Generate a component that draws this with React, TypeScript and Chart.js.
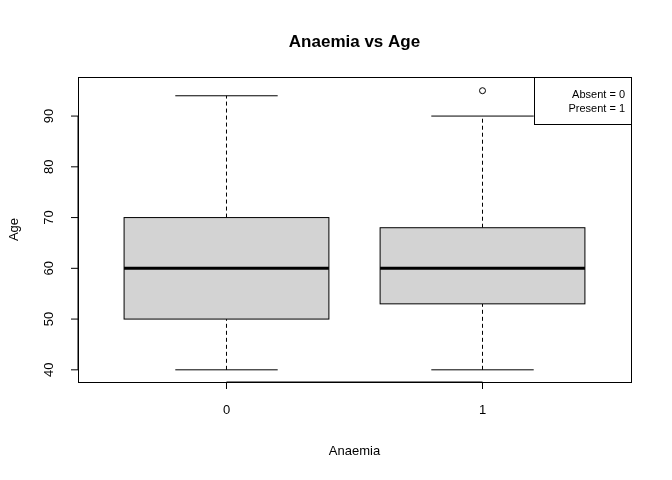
import React, { useEffect, useRef } from "react";
import { Chart, registerables } from "chart.js";
Chart.register(...registerables);

const groups = ["0", "1"];
const mins = [40, 40];
const q1s = [50, 53];
const medians = [60, 60];
const q3s = [70, 68];
const maxs = [94, 90];
const outliers = [{ x: 2, y: 95 }];
const yTicks = [40, 50, 60, 70, 80, 90];
const legendLines = ["Absent = 0", "Present = 1"];

const FONT = "'Liberation Sans', Arial, sans-serif";

const boxPlugin = {
    id: "rbox",
    beforeDatasetsDraw(chart: any) {
        const { ctx, scales, chartArea } = chart;
        const xs = scales.x;
        const ys = scales.y;
        ctx.save();
        groups.forEach((g, i) => {
            const xc = i + 1;
            const l = xs.getPixelForValue(xc - 0.4);
            const r = xs.getPixelForValue(xc + 0.4);
            const cl = xs.getPixelForValue(xc - 0.2);
            const cr = xs.getPixelForValue(xc + 0.2);
            const c = xs.getPixelForValue(xc);
            const yq1 = ys.getPixelForValue(q1s[i]);
            const yq3 = ys.getPixelForValue(q3s[i]);
            // whiskers
            ctx.strokeStyle = "#000";
            ctx.lineWidth = 1;
            ctx.setLineDash([4, 3]);
            ctx.beginPath();
            ctx.moveTo(c, ys.getPixelForValue(mins[i]));
            ctx.lineTo(c, yq1);
            ctx.moveTo(c, yq3);
            ctx.lineTo(c, ys.getPixelForValue(maxs[i]));
            ctx.stroke();
            ctx.setLineDash([]);
            ctx.beginPath();
            ctx.moveTo(cl, ys.getPixelForValue(mins[i]));
            ctx.lineTo(cr, ys.getPixelForValue(mins[i]));
            ctx.moveTo(cl, ys.getPixelForValue(maxs[i]));
            ctx.lineTo(cr, ys.getPixelForValue(maxs[i]));
            ctx.stroke();
            // box
            ctx.fillStyle = "#d3d3d3";
            ctx.fillRect(l, yq3, r - l, yq1 - yq3);
            ctx.strokeRect(l, yq3, r - l, yq1 - yq3);
            ctx.lineWidth = 3;
            ctx.beginPath();
            ctx.moveTo(l, ys.getPixelForValue(medians[i]));
            ctx.lineTo(r, ys.getPixelForValue(medians[i]));
            ctx.stroke();
        });
        ctx.restore();
    },
    afterDraw(chart: any) {
        const { ctx, scales, chartArea } = chart;
        const xs = scales.x;
        const ys = scales.y;
        ctx.save();
        ctx.strokeStyle = "#000";
        ctx.fillStyle = "#000";
        ctx.lineWidth = 1;
        ctx.strokeRect(chartArea.left + 0.5, chartArea.top + 0.5, chartArea.width, chartArea.height);
        // x axis
        ctx.font = `13px ${FONT}`;
        ctx.textAlign = "center";
        ctx.textBaseline = "middle";
        ctx.beginPath();
        ctx.moveTo(xs.getPixelForValue(1), chartArea.bottom);
        ctx.lineTo(xs.getPixelForValue(2), chartArea.bottom);
        groups.forEach((g, i) => {
            const p = xs.getPixelForValue(i + 1);
            ctx.moveTo(p, chartArea.bottom);
            ctx.lineTo(p, chartArea.bottom + 7);
        });
        ctx.stroke();
        groups.forEach((g, i) => ctx.fillText(g, xs.getPixelForValue(i + 1), chartArea.bottom + 28));
        // y axis
        ctx.beginPath();
        ctx.moveTo(chartArea.left, ys.getPixelForValue(yTicks[0]));
        ctx.lineTo(chartArea.left, ys.getPixelForValue(yTicks[yTicks.length - 1]));
        yTicks.forEach((t) => {
            const p = ys.getPixelForValue(t);
            ctx.moveTo(chartArea.left, p);
            ctx.lineTo(chartArea.left - 7, p);
        });
        ctx.stroke();
        yTicks.forEach((t) => {
            ctx.save();
            ctx.translate(chartArea.left - 29, ys.getPixelForValue(t));
            ctx.rotate(-Math.PI / 2);
            ctx.fillText(String(t), 0, 0);
            ctx.restore();
        });
        // axis titles
        ctx.fillText("Anaemia", (chartArea.left + chartArea.right) / 2, 451);
        ctx.save();
        ctx.translate(14, (chartArea.top + chartArea.bottom) / 2);
        ctx.rotate(-Math.PI / 2);
        ctx.fillText("Age", 0, 0);
        ctx.restore();
        ctx.font = `bold 17px ${FONT}`;
        ctx.fillText("Anaemia vs Age", (chartArea.left + chartArea.right) / 2, 42);
        // legend
        const lw = 97, lh = 47;
        const lx = chartArea.right - lw;
        ctx.fillStyle = "#fff";
        ctx.fillRect(lx, chartArea.top, lw, lh);
        ctx.strokeRect(lx + 0.5, chartArea.top + 0.5, lw, lh);
        ctx.fillStyle = "#000";
        ctx.font = `11px ${FONT}`;
        ctx.textAlign = "right";
        legendLines.forEach((t, i) => ctx.fillText(t, chartArea.right - 6, chartArea.top + 18 + i * 14));
        ctx.restore();
    },
};

export default function App() {
    const canvasRef = useRef<HTMLCanvasElement | null>(null);

    useEffect(() => {
        document.body.style.margin = "0";
        if (!canvasRef.current) return;
        const chart = new Chart(canvasRef.current, {
            type: "scatter",
            data: {
                datasets: [
                    {
                        label: "outliers",
                        data: outliers,
                        pointRadius: 3,
                        pointBackgroundColor: "rgba(0,0,0,0)",
                        pointBorderColor: "#000",
                        pointBorderWidth: 1,
                    },
                ],
            },
            options: {
                responsive: false,
                animation: false,
                layout: { padding: { left: 78, right: 41, top: 77, bottom: 98 } },
                plugins: { legend: { display: false }, tooltip: { enabled: false } },
                scales: {
                    x: { type: "linear", min: 0.42, max: 2.58, display: false },
                    y: { type: "linear", min: 37.6, max: 97.7, display: false },
                },
            },
            plugins: [boxPlugin],
        });
        return () => chart.destroy();
    }, []);

    return (
        <div style={{ position: "fixed", left: 0, top: 0, width: 672, height: 480, background: "#fff" }}>
            <canvas ref={canvasRef} width={672} height={480} />
        </div>
    );
}
